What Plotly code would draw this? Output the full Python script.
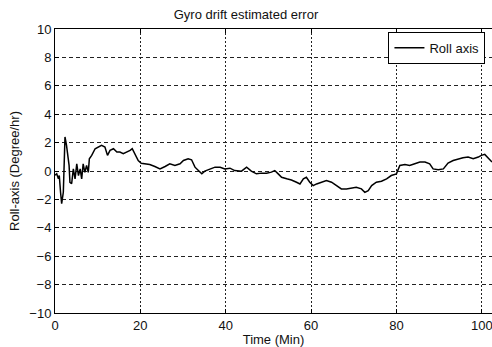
import plotly.graph_objects as go

# Time (min) and roll-axis drift estimated error (deg/hr)
time_min = [0, 0.4, 0.8, 1.0, 1.3, 1.56, 1.95, 2.34, 2.7, 3.0, 3.3, 3.5, 3.9, 4.3, 4.7, 5.1,
            5.5, 5.9, 6.25, 6.6, 7.0, 7.4, 7.8, 8.05, 8.6, 9.4, 10.2, 10.9, 11.7, 12.3,
            12.9, 13.7, 14.5, 15.2, 16.0, 16.8, 17.6, 18.1, 18.75, 19.5, 20.2, 21.1,
            22.2, 23.4, 24.6, 25.8, 26.9, 28.1, 29.3, 30.1, 31.2, 32.0, 32.8, 33.6,
            34.4, 35.1, 36.3, 37.5, 38.7, 39.8, 41.0, 42.1, 43.7, 44.9, 46.0, 47.2,
            48.4, 49.6, 50.7, 51.5, 52.3, 53.1, 54.3, 55.4, 56.6, 57.4, 58.2, 58.9,
            59.7, 60.5, 61.3, 62.4, 63.6, 64.8, 66.0, 67.1, 68.3, 69.5, 70.6, 71.8,
            72.6, 73.4, 74.2, 75.3, 76.5, 77.7, 78.8, 80.0, 80.4, 80.8, 82.0, 83.1,
            84.3, 85.5, 86.7, 87.8, 88.6, 89.8, 91.0, 92.1, 93.3, 94.5, 95.6, 96.8,
            98.0, 99.2, 99.9, 100.7, 101.3, 101.9, 102.4]
roll_err = [-0.3, -0.2, -0.55, -0.32, -1.5, -2.3, -1.5, 2.4, 1.8, 1.1, 0.4, -0.8, -0.9, 0.15,
            -0.55, 0.5, -0.32, 0.15, -0.55, 0.5, -0.1, 0.4, -0.1, 0.86, 1.1, 1.57, 1.69,
            1.8, 1.69, 1.1, 1.45, 1.57, 1.33, 1.33, 1.22, 1.33, 1.45, 1.57, 1.22, 0.74,
            0.55, 0.51, 0.46, 0.32, 0.15, 0.32, 0.51, 0.39, 0.51, 0.74, 0.86, 0.79, 0.27,
            0.03, -0.2, -0.01, 0.15, 0.27, 0.27, 0.15, 0.2, 0.03, -0.01, 0.27, -0.01,
            -0.2, -0.15, -0.15, -0.08, 0.03, -0.2, -0.44, -0.55, -0.63, -0.79, -0.91,
            -0.55, -0.44, -0.79, -1.03, -0.91, -0.79, -0.67, -0.79, -1.03, -1.26, -1.26,
            -1.19, -1.15, -1.26, -1.5, -1.38, -1.03, -0.79, -0.72, -0.55, -0.32, -0.2,
            0.15, 0.39, 0.46, 0.39, 0.51, 0.63, 0.63, 0.51, 0.15, 0.08, 0.15, 0.56, 0.74,
            0.86, 0.93, 0.98, 0.86, 0.98, 1.1, 1.17, 0.98, 0.74, 0.63]

x_ticks = [0, 20, 40, 60, 80, 100]
y_ticks = [-10, -8, -6, -4, -2, 0, 2, 4, 6, 8, 10]

FONT = "Liberation Sans, Arial, sans-serif"

fig = go.Figure()
fig.add_trace(go.Scatter(x=time_min, y=roll_err, mode="lines", name="Roll axis",
                         line=dict(color="black", width=1.5)))

fig.update_layout(
    width=492, height=347,
    margin=dict(l=55, r=0, t=29, b=34),
    paper_bgcolor="white", plot_bgcolor="white",
    font=dict(family=FONT, size=13, color="#111"),
    title=dict(text="Gyro drift estimated error", x=0.5, xanchor="center",
               y=1 - 14 / 347, yanchor="middle", font=dict(size=13)),
    showlegend=True,
    legend=dict(x=0.985, xanchor="right", y=0.99, yanchor="top",
                bgcolor="white", bordercolor="black", borderwidth=1,
                font=dict(size=13), itemwidth=30,
                tracegroupgap=0),
)
fig.update_xaxes(range=[0, 102.4], tickvals=x_ticks, ticks="inside", ticklen=4,
                 tickcolor="black", showline=True, linecolor="black", linewidth=1,
                 mirror="ticks", showgrid=True, gridcolor="#222", gridwidth=1,
                 griddash="2px,2px", zeroline=False, ticklabeloverflow="allow",
                 title=dict(text="Time (Min)", standoff=3, font=dict(size=13)),
                 tickfont=dict(size=13))
fig.update_yaxes(range=[-10, 10], tickvals=y_ticks, ticks="inside", ticklen=4,
                 tickcolor="black", showline=True, linecolor="black", linewidth=1,
                 showgrid=True, gridcolor="#222", gridwidth=1, griddash="4px,3px",
                 zeroline=False,
                 title=dict(text="Roll-axis (Degree/hr)", standoff=6, font=dict(size=13)),
                 tickfont=dict(size=13))

fig.write_html("out.html")
